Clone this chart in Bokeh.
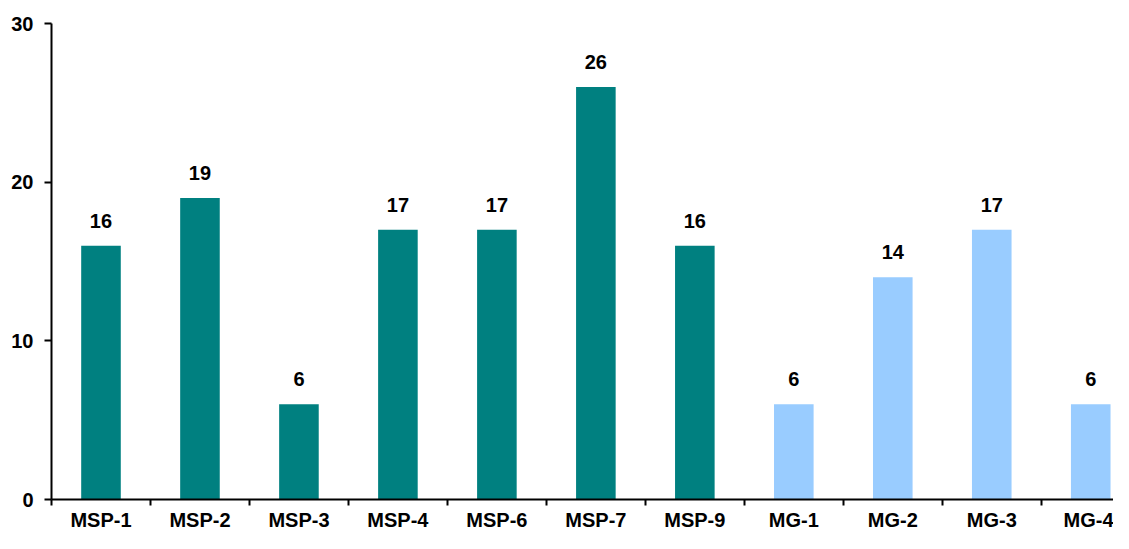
from bokeh.plotting import figure
from bokeh.models import ColumnDataSource, FixedTicker, Range1d
from bokeh.core.properties import value
from bokeh.embed import file_html
from bokeh.resources import INLINE

categories = ["MSP-1", "MSP-2", "MSP-3", "MSP-4", "MSP-6", "MSP-7", "MSP-9",
              "MG-1", "MG-2", "MG-3", "MG-4"]
values = [16, 19, 6, 17, 17, 26, 16, 6, 14, 17, 6]
groups = ["MSP"] * 7 + ["MG"] * 4
group_colors = {"MSP": "#008080", "MG": "#99CCFF"}
y_ticks = [0, 10, 20, 30]

FONT = "Liberation Sans"

xs = [i + 0.5 for i in range(len(categories))]
src = ColumnDataSource(dict(
    x=xs,
    top=values,
    color=[group_colors[g] for g in groups],
    label=[str(v) for v in values],
))

p = figure(width=1113, height=533, output_backend="svg", toolbar_location=None,
           x_range=Range1d(0, 10.73), y_range=Range1d(0, 30),
           min_border_left=51, min_border_right=0, min_border_top=23,
           min_border_bottom=26)
p.outline_line_color = None
p.xgrid.grid_line_color = None
p.ygrid.grid_line_color = None
p.background_fill_color = "white"
p.border_fill_color = "white"

p.vbar(x="x", top="top", width=0.4, bottom=0, color="color", line_color=None, source=src)
p.text(x="x", y="top", text="label", source=src, text_align="center",
       text_baseline="alphabetic", y_offset=-25, text_font=value(FONT),
       text_font_style="bold", text_font_size="20px", text_color="black")

# x axis
xa = p.xaxis[0]
xa.ticker = FixedTicker(ticks=xs, minor_ticks=list(range(len(categories) + 1)))
xa.major_label_overrides = {x: c for x, c in zip(xs, categories)}
xa.major_tick_line_color = None
xa.major_tick_out = 0
xa.major_tick_in = 0
xa.minor_tick_out = 6
xa.minor_tick_in = 0
xa.minor_tick_line_color = "black"
xa.minor_tick_line_width = 2
xa.axis_line_color = "black"
xa.axis_line_width = 2
xa.major_label_standoff = 3
xa.major_label_text_font = FONT
xa.major_label_text_font_style = "bold"
xa.major_label_text_font_size = "20px"
xa.major_label_text_color = "black"

# y axis
ya = p.yaxis[0]
ya.ticker = FixedTicker(ticks=y_ticks, minor_ticks=[])
ya.major_tick_out = 7
ya.major_tick_in = 0
ya.major_tick_line_width = 2
ya.major_tick_line_color = "black"
ya.minor_tick_line_color = None
ya.axis_line_color = "black"
ya.axis_line_width = 2
ya.major_label_standoff = 11
ya.major_label_text_font = FONT
ya.major_label_text_font_style = "bold"
ya.major_label_text_font_size = "20px"
ya.major_label_text_color = "black"

open("out.html", "w").write(file_html(p, INLINE))
